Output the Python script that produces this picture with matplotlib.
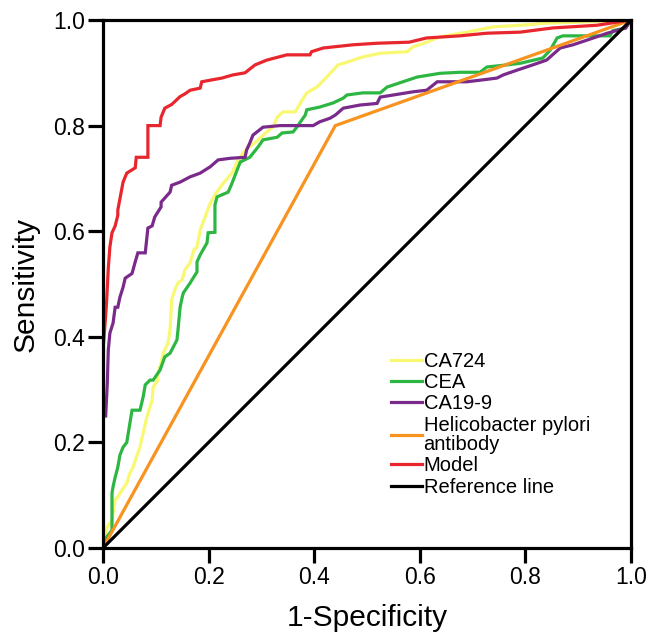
import matplotlib
matplotlib.use("Agg")
import matplotlib.pyplot as plt

plt.rcParams['font.family'] = ['Liberation Sans', 'DejaVu Sans']

# ---- data ----
ca724_x = [0, 0.002, 0.008, 0.017, 0.023, 0.028, 0.036, 0.045, 0.051, 0.057, 0.066, 0.07, 0.076, 0.083,
           0.093, 0.095, 0.104, 0.104, 0.11, 0.114, 0.123, 0.127, 0.13, 0.136, 0.142, 0.15, 0.155, 0.165,
           0.172, 0.178, 0.184, 0.203, 0.212, 0.227, 0.244, 0.254, 0.265, 0.278, 0.294, 0.31, 0.322, 0.33,
           0.341, 0.364, 0.377, 0.386, 0.405, 0.424, 0.445, 0.462, 0.492, 0.525, 0.576, 0.587, 0.613,
           0.638, 0.689, 0.739, 0.79, 0.84, 0.903, 1.0]
ca724_y = [0, 0.02, 0.04, 0.053, 0.091, 0.097, 0.11, 0.123, 0.142, 0.153, 0.18, 0.191, 0.218, 0.248,
           0.28, 0.305, 0.318, 0.331, 0.35, 0.369, 0.388, 0.413, 0.47, 0.489, 0.502, 0.508, 0.527, 0.54,
           0.564, 0.57, 0.602, 0.653, 0.669, 0.69, 0.71, 0.731, 0.748, 0.76, 0.773, 0.788, 0.797, 0.816,
           0.826, 0.826, 0.848, 0.862, 0.873, 0.892, 0.915, 0.92, 0.93, 0.937, 0.94, 0.949, 0.958,
           0.968, 0.977, 0.987, 0.99, 0.994, 0.996, 1.0]

cea_x = [0, 0.007, 0.017, 0.017, 0.019, 0.023, 0.028, 0.032, 0.038, 0.045, 0.051, 0.055, 0.07, 0.076,
         0.08, 0.089, 0.095, 0.108, 0.117, 0.127, 0.14, 0.142, 0.146, 0.15, 0.152, 0.165, 0.178, 0.178,
         0.184, 0.197, 0.199, 0.212, 0.212, 0.216, 0.237, 0.244, 0.254, 0.26, 0.278, 0.294, 0.303, 0.33,
         0.339, 0.36, 0.367, 0.383, 0.386, 0.41, 0.436, 0.455, 0.462, 0.492, 0.525, 0.538, 0.568, 0.595,
         0.638, 0.676, 0.714, 0.727, 0.765, 0.79, 0.833, 0.847, 0.86, 0.871, 0.96, 0.966, 0.99, 1.0]
cea_y = [0, 0.021, 0.034, 0.104, 0.116, 0.134, 0.153, 0.176, 0.191, 0.2, 0.237, 0.261, 0.261, 0.286,
         0.309, 0.318, 0.318, 0.337, 0.362, 0.369, 0.394, 0.413, 0.456, 0.475, 0.483, 0.502, 0.523, 0.542,
         0.555, 0.578, 0.597, 0.598, 0.65, 0.665, 0.674, 0.69, 0.716, 0.731, 0.74, 0.76, 0.773, 0.778,
         0.786, 0.788, 0.797, 0.82, 0.83, 0.835, 0.843, 0.852, 0.858, 0.862, 0.862, 0.873, 0.883, 0.892,
         0.899, 0.901, 0.901, 0.911, 0.915, 0.918, 0.928, 0.943, 0.966, 0.97, 0.97, 0.98, 0.985, 1.0]

ca199_x = [0, 0, 0.005, 0.008, 0.01, 0.013, 0.019, 0.023, 0.028, 0.032, 0.038, 0.042, 0.055, 0.061,
           0.066, 0.08, 0.085, 0.093, 0.098, 0.11, 0.11, 0.127, 0.13, 0.146, 0.165, 0.184, 0.203, 0.218,
           0.24, 0.269, 0.272, 0.278, 0.284, 0.303, 0.335, 0.398, 0.41, 0.43, 0.44, 0.455, 0.487, 0.519,
           0.525, 0.55, 0.587, 0.613, 0.633, 0.689, 0.714, 0.746, 0.758, 0.784, 0.814, 0.84, 0.866,
           0.89, 0.917, 0.955, 0.99, 1.0]
ca199_y = [0, 0.25, 0.25, 0.31, 0.375, 0.407, 0.426, 0.456, 0.456, 0.475, 0.494, 0.511, 0.52, 0.542,
           0.559, 0.559, 0.606, 0.61, 0.627, 0.646, 0.655, 0.674, 0.687, 0.693, 0.703, 0.71, 0.722, 0.735,
           0.738, 0.74, 0.754, 0.767, 0.782, 0.797, 0.8, 0.8, 0.807, 0.814, 0.82, 0.833, 0.839, 0.842,
           0.854, 0.858, 0.864, 0.867, 0.883, 0.883, 0.886, 0.89, 0.896, 0.905, 0.915, 0.924, 0.947,
           0.953, 0.962, 0.975, 0.985, 1.0]

hp_x = [0, 0.44, 1.0]
hp_y = [0, 0.80, 1.0]

model_x = [0, 0, 0.005, 0.007, 0.01, 0.013, 0.017, 0.023, 0.028, 0.028, 0.038, 0.045, 0.061, 0.063,
           0.085, 0.085, 0.108, 0.11, 0.117, 0.13, 0.146, 0.155, 0.165, 0.184, 0.187, 0.203, 0.225,
           0.246, 0.269, 0.288, 0.31, 0.348, 0.392, 0.395, 0.417, 0.473, 0.519, 0.58, 0.613, 0.676,
           0.727, 0.79, 0.852, 0.935, 1.0]
model_y = [0, 0.375, 0.44, 0.47, 0.53, 0.57, 0.597, 0.61, 0.63, 0.64, 0.693, 0.71, 0.72, 0.74,
           0.74, 0.80, 0.80, 0.816, 0.833, 0.84, 0.855, 0.86, 0.867, 0.871, 0.883, 0.886, 0.89,
           0.896, 0.90, 0.915, 0.924, 0.934, 0.934, 0.94, 0.947, 0.953, 0.956, 0.958, 0.966, 0.97,
           0.975, 0.977, 0.985, 0.99, 1.0]

ref_x = [0, 1]
ref_y = [0, 1]

labels = ["CA724", "CEA", "CA19-9", "Helicobacter pylori\nantibody", "Model", "Reference line"]
colors = ["#F8F872", "#2DB742", "#7A2A8A", "#F7931E", "#E8262D", "#000000"]
ticks = [0.0, 0.2, 0.4, 0.6, 0.8, 1.0]
tick_labels = ["0.0", "0.2", "0.4", "0.6", "0.8", "1.0"]

# ---- figure ----
fig = plt.figure(figsize=(6.52, 6.35), dpi=100)
ax = fig.add_axes([0.158, 0.137, 0.8098, 0.8315])

series = [(ca724_x, ca724_y), (cea_x, cea_y), (ca199_x, ca199_y), (hp_x, hp_y),
          (model_x, model_y), (ref_x, ref_y)]
lw = 2.3
for (xs, ys), lab, col in zip(series, labels, colors):
    ax.plot(xs, ys, color=col, lw=lw, label=lab, solid_joinstyle='miter', zorder=2)

ax.set_xlim(0, 1)
ax.set_ylim(0, 1)
ax.set_xticks(ticks)
ax.set_xticklabels(tick_labels)
ax.set_yticks(ticks)
ax.set_yticklabels(tick_labels)
for s in ax.spines.values():
    s.set_linewidth(2.3)
    s.set_zorder(3)
ax.tick_params(axis='both', direction='out', length=11, width=2.3, labelsize=16.5, pad=2,
               colors='black')

ax.set_xlabel("1-Specificity", fontsize=21.5, labelpad=11)
ax.set_ylabel("Sensitivity", fontsize=21.5, labelpad=10)

leg = ax.legend(loc='upper left', bbox_to_anchor=(0.546, 0.372), frameon=False, fontsize=14.5,
                handlelength=1.5, handletextpad=0.1, labelspacing=0.12, borderpad=0,
                borderaxespad=0)
for t in leg.get_texts():
    t.set_linespacing(1.0)
for h in leg.get_lines():
    h.set_linewidth(2.3)

fig.savefig("out.png", dpi=100)
